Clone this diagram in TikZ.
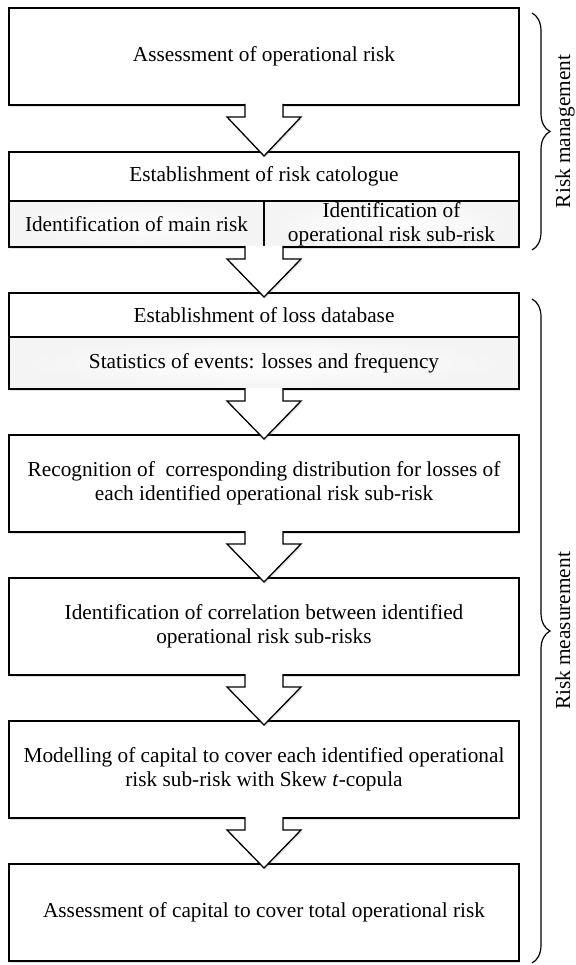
\documentclass[tikz,border=0pt]{standalone}
\usepackage{fontspec}
\setmainfont{Liberation Serif}
\usetikzlibrary{calc,shadows,decorations.pathreplacing}
\newcommand{\blockarrow}[2]{%
  \filldraw[barrow] ($(#1.south)+(-19,-1)$) -- ($(#1.south)+(-19,12)$) -- ($(#1.south)+(-37,12)$)
    -- ($(#2.north)+(0,4)$) -- ($(#1.south)+(37,12)$) -- ($(#1.south)+(19,12)$) -- ($(#1.south)+(19,-1)$);}
\begin{document}
\begin{tikzpicture}[x=1pt,y=-1pt,
  every node/.style={font=\fontsize{21.3}{24.2}\selectfont},
  box/.style={draw, line width=1.3pt, fill=white, minimum width=510pt, inner sep=0pt, outer sep=0pt,
    align=center, drop shadow={shadow xshift=1.2pt, shadow yshift=-1.8pt, opacity=0.22}},
  cell/.style={draw, line width=1.3pt, fill=white, inner sep=0pt, outer sep=0pt, align=center},
  subcell/.style={draw, line width=1.3pt, inner sep=0pt, outer sep=0pt, align=center,
    inner color=white, outer color=gray!9},
  barrow/.style={draw=black, line width=1.3pt, fill=white, line join=miter,
    drop shadow={shadow xshift=1.2pt, shadow yshift=-1.8pt, opacity=0.22}},
  bracesty/.style={decorate, decoration={brace, amplitude=18pt}, line width=1.2pt},
  sidelabel/.style={rotate=90, anchor=base, inner sep=0pt}]
\useasboundingbox (0,0) rectangle (575,965);

% Box 1
\node[box, minimum height=97pt] (b1) at (264,56.5) {Assessment of operational risk};

% Box 2 (catalogue)
\node[box, minimum height=95pt] (b2) at (264,199.5) {};
\node[cell, minimum width=510pt, minimum height=49pt] (b2t) at (264,176.5) {Establishment of risk catologue};
\node[subcell, minimum width=255pt, minimum height=46pt] (b2l) at (136.5,224) {Identification of main risk};
\node[subcell, minimum width=255pt, minimum height=46pt] (b2r) at (391.5,224) {Identification of\\operational risk sub-risk};

% Box 3 (loss database)
\node[box, minimum height=96pt] (b3) at (264,341) {};
\node[cell, minimum width=510pt, minimum height=44pt] (b3t) at (264,315) {Establishment of loss database};
\node[subcell, minimum width=510pt, minimum height=52pt] (b3s) at (264,363) {Statistics of events: losses and frequency};

% Boxes 4-7
\node[box, minimum height=97pt] (b4) at (264,483.5) {Recognition of~ corresponding distribution for losses of\\each identified operational risk sub-risk};
\node[box, minimum height=97pt] (b5) at (264,626.5) {Identification of correlation between identified\\operational risk sub-risks};
\node[box, minimum height=97pt] (b6) at (264,769.5) {Modelling of capital to cover each identified operational\\risk sub-risk with Skew \textit{t}-copula};
\node[box, minimum height=97pt] (b7) at (264,912.5) {Assessment of capital to cover total operational risk};

% Block arrows
\blockarrow{b1}{b2}
\blockarrow{b2}{b3}
\blockarrow{b3}{b4}
\blockarrow{b4}{b5}
\blockarrow{b5}{b6}
\blockarrow{b6}{b7}

% Braces
\coordinate (rmA) at (532,13);
\coordinate (rmB) at (532,250);
\coordinate (rsA) at (532,299);
\coordinate (rsB) at (532,963);
\draw[bracesty] (rmA) -- (rmB);
\draw[bracesty] (rsA) -- (rsB);
\node[sidelabel] (lblA) at (570,131.5) {Risk management};
\node[sidelabel] (lblB) at (570,631) {Risk measurement};
\end{tikzpicture}
\end{document}
